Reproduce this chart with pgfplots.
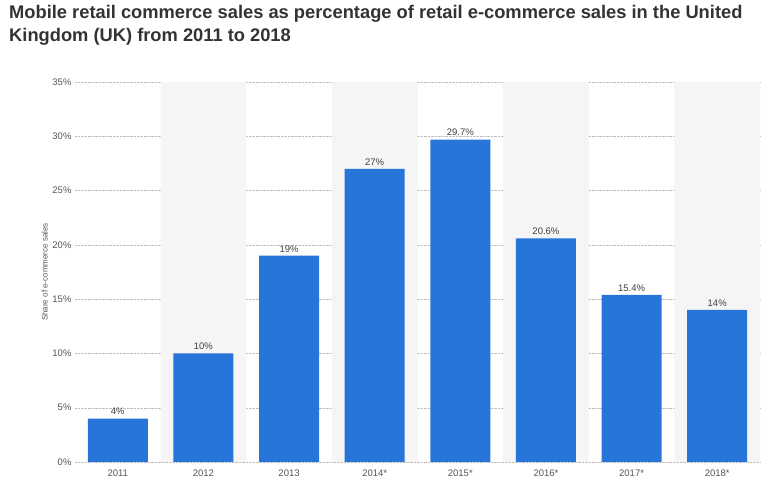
\documentclass[border=0pt]{standalone}
\usepackage{pgfplots}
\pgfplotsset{compat=1.18}
\usepackage{fontspec}
\setmainfont{Liberation Sans}
\definecolor{barblue}{HTML}{2875DA}
\definecolor{tick}{HTML}{555555}
\begin{document}
\begin{tikzpicture}[x=1pt,y=1pt]
\path (0,0) rectangle (762,489);
\node[anchor=north west, align=left, font=\fontsize{18.3}{23}\selectfont\bfseries, text=black!80, inner sep=0pt] at (9,484) {Mobile retail commerce sales as percentage of retail e-commerce sales in the United\\Kingdom (UK) from 2011 to 2018};
\begin{axis}[at={(75pt,27pt)}, anchor=south west, scale only axis, width=685pt, height=380pt,
  xmin=-0.5, xmax=7.5, ymin=0, ymax=35, axis line style={draw=none},
  xtick={0,...,7}, xticklabels={2011,2012,2013,2014*,2015*,2016*,2017*,2018*},
  ytick={0,5,...,35}, yticklabel={\pgfmathprintnumber{\tick}\%},
  /pgf/number format/assume math mode=true,
  tick style={draw=none},
  ticklabel style={font=\fontsize{9.5}{11}\selectfont, text=tick},
  ymajorgrids, grid style={densely dotted, black!25},
  ylabel={Share of e-commerce sales}, ylabel style={font=\fontsize{8}{9}\selectfont, text=tick, yshift=-2pt},
  nodes near coords style={font=\fontsize{9.5}{11}\selectfont, text=black!75},
  ybar, bar shift=0pt, axis on top=false, clip=false]
\addplot[fill=black!4, draw=none, bar width=1] coordinates {(1,35) (3,35) (5,35) (7,35)};
\addplot[fill=barblue, draw=none, bar width=0.7,
  nodes near coords={\pgfmathprintnumber{\pgfplotspointmeta}\%}] coordinates {(0,4) (1,10) (2,19) (3,27) (4,29.7) (5,20.6) (6,15.4) (7,14)};
\end{axis}
\end{tikzpicture}
\end{document}
